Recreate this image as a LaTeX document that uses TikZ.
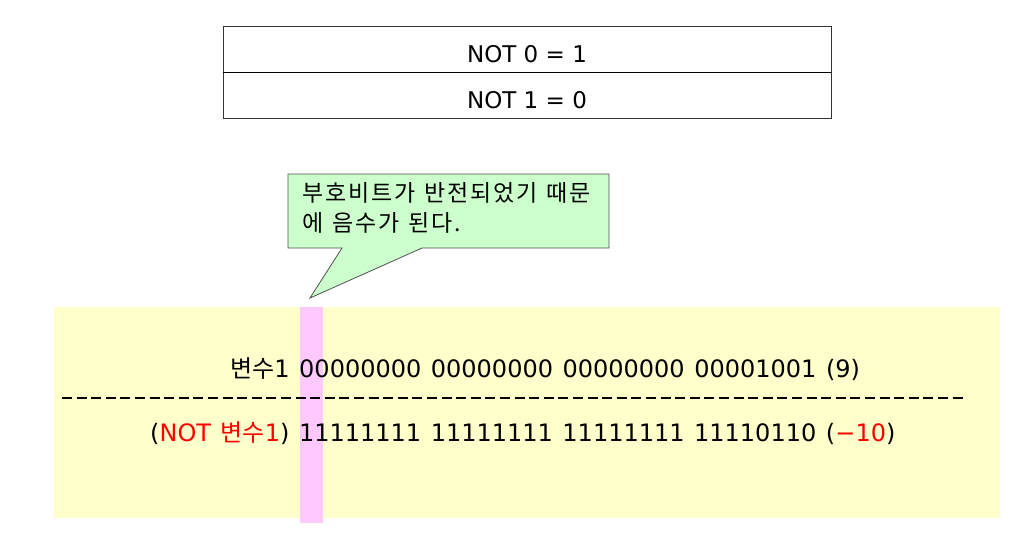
\documentclass[tikz,border=0pt]{standalone}
\usepackage{fontspec}
\setmainfont{DejaVu Sans}
\newfontfamily\kr{Noto Sans CJK KR}
\newfontfamily\krwide[LetterSpace=8]{Noto Sans CJK KR}
\newcommand\mycallfont{\krwide\fontsize{23}{30}\selectfont\spaceskip=9pt plus 1pt\relax}
\newcommand\mybitfont{\fontsize{24}{28}\selectfont\spaceskip=9.6pt plus 1pt\relax}
\definecolor{boxyellow}{HTML}{FFFFCC}
\definecolor{strippink}{HTML}{FFC8FF}
\definecolor{callgreen}{HTML}{CCFFCC}
\definecolor{callline}{HTML}{505050}
\definecolor{redtxt}{HTML}{FF0000}
\tikzset{
  tabletext/.style={font=\fontsize{23}{27}\selectfont, inner sep=0pt},
  calltext/.style={font=\mycallfont, inner sep=0pt, align=left},
  bittext/.style={font=\mybitfont, inner sep=0pt, anchor=west},
}
\begin{document}
\begin{tikzpicture}[x=1pt,y=-1pt]
\useasboundingbox (0,0) rectangle (1034,542);
% table
\draw[line width=1pt, black!80] (223,26) rectangle (831,118);
\draw[line width=1pt] (223,72) -- (831,72);
\node[tabletext] (t1) at (527,54) {NOT 0 = 1};
\node[tabletext] (t2) at (527,100) {NOT 1 = 0};
% yellow area and pink strip
\fill[boxyellow] (54,307) rectangle (1000,518);
\fill[strippink] (300,307) rectangle (323,523);
% callout
\draw[callline, fill=callgreen, line width=0.8pt]
  (288,174) -- (609,174) -- (609,248) -- (422,248) -- (310,298) -- (342,248) -- (288,248) -- cycle;
\node[calltext, anchor=north west] (c) at (302,182) {부호비트가 반전되었기 때문\\에 음수가 된다.};
% bit lines
\node[bittext] (l1) at (230,369) {{\kr 변수}1 00000000 00000000 00000000 00001001 (9)};
\draw[line width=1.8pt, dash pattern=on 10pt off 4.6pt] (62,398) -- (966,398);
\node[bittext] (l3) at (150,433) {(\textcolor{redtxt}{NOT {\kr 변수}1}) 11111111 11111111 11111111 11110110 (\textcolor{redtxt}{−10})};
\end{tikzpicture}
\end{document}
